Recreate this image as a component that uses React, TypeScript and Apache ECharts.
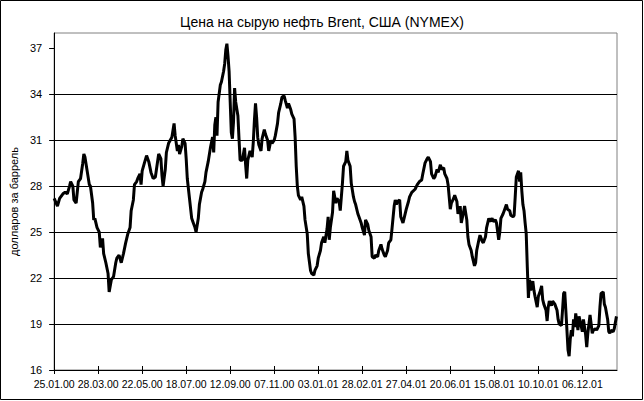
import React, { useEffect, useRef } from 'react';
import * as echarts from 'echarts';

const titleText = 'Цена на сырую нефть Brent, США (NYMEX)';
const yAxisTitle = 'долларов за баррель';

const dateLabels = ['25.01.00', '28.03.00', '22.05.00', '18.07.00', '12.09.00', '07.11.00', '03.01.01', '28.02.01', '27.04.01', '20.06.01', '15.08.01', '10.10.01', '06.12.01'];
const xTicks = [0, 40, 80, 120, 160, 200, 240, 280, 320, 360, 400, 440, 480];
const yTicks = [16, 19, 22, 25, 28, 31, 34, 37];

const dayIndex = [
  0, 3, 5, 8, 10, 12, 14, 15, 17, 18, 20, 21, 22, 24, 26, 27, 28, 30, 32, 33,
  35, 36, 37, 39, 41, 42, 44, 45, 47, 49, 50, 52, 54, 56, 57, 59, 61, 63, 65, 67,
  69, 70, 72, 73, 75, 76, 78, 79, 80, 82, 84, 86, 88, 90, 92, 93, 95, 97, 98, 99,
  101, 102, 104, 107, 109, 110, 112, 113, 114, 116, 117, 119, 120, 121, 123, 125, 126, 128, 129, 131,
  132, 134, 135, 137, 138, 140, 142, 144, 145, 146, 147, 148, 149, 151, 152, 154, 155, 156, 157, 158,
  159, 160, 161, 162, 163, 164, 165, 167, 168, 169, 171, 173, 174, 175, 176, 178, 180, 181, 182, 183,
  184, 185, 186, 188, 189, 191, 192, 194, 195, 197, 198, 200, 201, 203, 204, 206, 207, 209, 210, 212,
  213, 215, 216, 218, 219, 220, 221, 222, 224, 225, 227, 228, 230, 231, 233, 234, 236, 237, 239, 240,
  242, 243, 245, 246, 248, 249, 250, 251, 253, 254, 256, 257, 259, 260, 262, 263, 265, 266, 267, 269,
  270, 272, 273, 274, 276, 277, 279, 280, 282, 283, 285, 286, 288, 289, 291, 292, 294, 295, 297, 298,
  300, 301, 303, 304, 306, 307, 309, 310, 311, 312, 314, 315, 317, 318, 320, 322, 323, 325, 328, 330,
  332, 334, 335, 337, 339, 340, 342, 343, 345, 346, 348, 349, 351, 352, 354, 355, 357, 358, 359, 360,
  361, 363, 364, 366, 367, 369, 370, 372, 373, 375, 376, 377, 379, 380, 382, 383, 384, 386, 387, 389,
  390, 392, 393, 395, 396, 398, 399, 401, 402, 404, 405, 406, 408, 409, 411, 412, 414, 415, 417, 418,
  419, 420, 422, 423, 424, 425, 426, 427, 428, 429, 430, 431, 432, 433, 435, 436, 437, 439, 440, 442,
  443, 444, 445, 447, 448, 449, 450, 452, 453, 455, 457, 458, 459, 461, 462, 463, 464, 465, 466, 467,
  468, 469, 470, 471, 472, 473, 474, 476, 477, 478, 480, 481, 483, 484, 485, 487, 488, 489, 490, 492,
  493, 495, 496, 497, 499, 500, 501, 503, 504, 505, 506, 508, 509, 511,
];

const priceUsd = [
  27.2, 26.7, 27.2, 27.5, 27.6, 27.5, 28.0, 28.3, 28.0, 27.1, 26.9, 27.6, 28.3, 28.5, 29.5, 30.1, 29.9, 29.0, 28.1, 28.0,
  26.9, 25.8, 25.9, 25.3, 25.0, 24.0, 24.6, 23.6, 23.0, 22.3, 21.1, 21.9, 22.1, 23.0, 23.3, 23.5, 23.0, 23.6, 24.3, 24.9,
  25.3, 26.4, 27.1, 28.1, 28.3, 28.5, 28.8, 28.1, 29.0, 29.5, 30.0, 29.6, 28.9, 28.5, 28.6, 29.1, 30.1, 29.8, 28.7, 28.0,
  29.1, 30.2, 30.8, 31.2, 32.1, 31.3, 30.3, 30.7, 30.1, 30.6, 31.1, 30.8, 29.8, 28.5, 27.2, 25.9, 25.7, 25.3, 25.0, 25.9,
  26.8, 27.6, 27.8, 28.3, 28.9, 29.6, 30.5, 31.2, 30.2, 32.0, 32.5, 31.3, 33.5, 34.6, 34.8, 35.5, 36.0, 36.9, 37.3, 36.5,
  35.5, 33.5, 31.5, 31.1, 32.2, 34.4, 33.5, 32.6, 31.1, 29.7, 29.7, 30.5, 29.4, 28.5, 29.7, 30.3, 29.9, 30.9, 32.3, 33.4,
  32.5, 31.2, 30.7, 30.3, 31.1, 31.7, 31.4, 31.0, 30.3, 31.0, 30.8, 31.0, 31.3, 32.1, 32.8, 33.4, 33.8, 33.9, 33.6, 33.1,
  33.4, 33.0, 32.7, 32.4, 31.2, 29.3, 28.0, 27.4, 27.1, 27.3, 26.7, 25.8, 24.9, 23.6, 22.5, 22.3, 22.2, 22.5, 22.8, 23.3,
  23.8, 24.3, 24.7, 24.3, 25.2, 26.0, 24.5, 25.3, 26.3, 27.7, 26.9, 27.2, 27.0, 26.4, 28.2, 29.3, 29.6, 30.3, 29.7, 29.3,
  28.2, 27.3, 27.0, 26.8, 26.2, 26.0, 25.6, 25.3, 24.8, 25.8, 25.5, 25.1, 24.7, 23.4, 23.3, 23.5, 23.4, 23.8, 24.2, 23.9,
  23.5, 23.4, 23.8, 24.3, 24.5, 25.2, 26.7, 27.1, 26.8, 27.0, 27.1, 26.0, 25.6, 25.9, 26.5, 27.0, 27.3, 27.6, 27.8, 28.1,
  28.3, 28.4, 28.8, 29.5, 29.8, 29.9, 29.6, 28.8, 28.5, 28.6, 29.1, 28.9, 29.4, 29.1, 29.2, 28.8, 28.5, 28.1, 27.3, 26.5,
  26.9, 27.2, 27.4, 27.0, 26.2, 26.7, 25.6, 26.3, 26.7, 25.8, 24.7, 24.2, 23.8, 23.4, 22.8, 23.0, 23.8, 24.5, 24.8, 24.4,
  24.3, 24.7, 25.3, 25.9, 25.7, 25.9, 25.7, 25.8, 25.6, 24.5, 25.0, 25.9, 26.2, 26.4, 26.8, 26.5, 26.4, 26.1, 26.0, 26.1,
  27.3, 28.6, 29.0, 28.3, 28.9, 27.7, 26.8, 26.4, 25.6, 24.9, 22.7, 20.7, 21.9, 21.2, 21.8, 21.2, 20.8, 20.1, 20.8, 21.2,
  21.5, 20.6, 20.3, 19.9, 19.2, 20.1, 20.5, 20.2, 20.5, 20.3, 19.9, 19.3, 19.0, 18.9, 19.9, 21.0, 21.1, 19.9, 18.6, 17.3,
  16.9, 18.0, 18.6, 18.2, 19.3, 18.8, 19.7, 18.6, 19.5, 19.2, 18.5, 19.3, 18.3, 17.5, 18.4, 19.6, 19.0, 18.4, 18.6, 18.7,
  18.6, 18.9, 20.1, 21.0, 21.1, 20.3, 20.1, 19.3, 18.5, 18.4, 18.6, 18.5, 18.7, 19.5,
];

const FONT = '"Liberation Sans", Arial, sans-serif';

export default function App() {
  const ref = useRef<HTMLDivElement>(null);

  useEffect(() => {
    if (!ref.current) return;
    const chart = echarts.init(ref.current, null, { renderer: 'svg' });
    const seriesData = dayIndex.map((d, i) => [d, priceUsd[i]]);
    const xCommon = {
      type: 'value',
      min: 0,
      max: 511.5,
      interval: 40,
      position: 'bottom',
      splitLine: { show: false },
    };
    chart.setOption({
      animation: false,
      backgroundColor: '#ffffff',
      textStyle: { fontFamily: FONT },
      title: {
        text: titleText,
        left: 'center',
        top: 10,
        textStyle: { fontFamily: FONT, fontSize: 14, fontWeight: 'normal', color: '#000' },
      },
      grid: {
        left: 48,
        top: 33,
        right: 27,
        bottom: 31,
        show: true,
        borderColor: '#808080',
        borderWidth: 1,
        backgroundColor: 'transparent',
      },
      xAxis: [
        {
          ...xCommon,
          axisLine: { show: true, lineStyle: { color: '#000', width: 1 } },
          axisTick: { show: true, length: 4, inside: false, customValues: xTicks, lineStyle: { color: '#000' } },
          axisLabel: {
            customValues: xTicks,
            margin: 8,
            fontSize: 10.5,
            color: '#000',
            fontFamily: FONT,
            formatter: (v: number) => dateLabels[Math.round(v / 40)] ?? '',
          },
        },
        {
          ...xCommon,
          axisLine: { show: false },
          axisTick: { show: true, length: 4, inside: true, customValues: xTicks, lineStyle: { color: '#000' } },
          axisLabel: { show: false },
        },
      ],
      yAxis: {
        type: 'value',
        min: 16,
        max: 38,
        interval: 3,
        name: yAxisTitle,
        nameLocation: 'middle',
        nameRotate: 90,
        nameGap: 34,
        nameTextStyle: { fontFamily: FONT, fontSize: 11, color: '#000' },
        axisLine: { show: true, lineStyle: { color: '#000', width: 1 } },
        axisTick: { show: true, length: 5, inside: false, customValues: yTicks, lineStyle: { color: '#000' } },
        axisLabel: { customValues: yTicks, margin: 12, fontSize: 11, color: '#000', fontFamily: FONT },
        splitLine: { show: true, showMinLine: false, showMaxLine: false, lineStyle: { color: '#000', width: 1 } },
      },
      graphic: [
        {
          type: 'rect',
          shape: { x: 0.5, y: 0.5, width: 642, height: 399 },
          style: { fill: 'none', stroke: '#000', lineWidth: 1 },
          silent: true,
        },
      ],
      series: [
        {
          type: 'line',
          xAxisIndex: 0,
          data: seriesData,
          showSymbol: false,
          symbol: 'none',
          lineStyle: { color: '#000', width: 3 },
        },
      ],
    });
    return () => chart.dispose();
  }, []);

  return <div ref={ref} style={{ position: 'absolute', left: 0, top: 0, width: 644, height: 401 }} />;
}
